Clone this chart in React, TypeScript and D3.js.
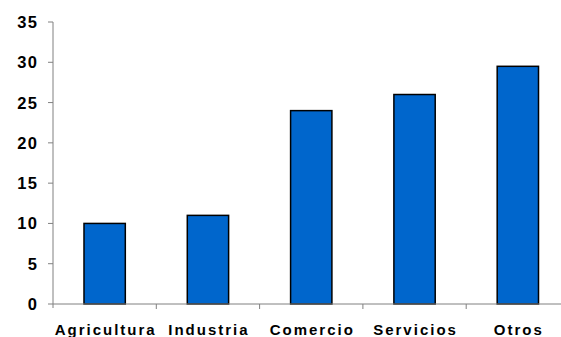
import React from "react";
import * as d3 from "d3";

const categories = ["Agricultura", "Industria", "Comercio", "Servicios", "Otros"];
const values = [10, 11, 24, 26, 29.5];
const yTicks = [0, 5, 10, 15, 20, 25, 30, 35];

export default function App() {
  const W = 561, H = 337;
  const left = 53, top = 22, bottom = 304;
  const band = 103.3;
  const x = d3.scaleBand<string>().domain(categories).range([left, left + band * categories.length]).paddingInner(0.6).paddingOuter(0.3);
  const y = d3.scaleLinear().domain([0, 35]).range([bottom, top]);
  const font = "Arial, 'Liberation Sans', sans-serif";
  return (
    <svg width={W} height={H} style={{ position: "absolute", left: 0, top: 0, background: "#fff" }}>
      {categories.map((c, i) => (
        <rect key={c} x={x(c)!} y={y(values[i])} width={x.bandwidth()} height={y(0) - y(values[i])}
          fill="#0066CC" stroke="#000" strokeWidth={1.5} />
      ))}
      <line x1={left} x2={W} y1={bottom} y2={bottom} stroke="#808080" strokeWidth={1} />
      <line x1={left} x2={left} y1={top} y2={bottom + 4} stroke="#808080" strokeWidth={1} />
      {yTicks.map(t => (
        <g key={t}>
          <line x1={left - 5} x2={left} y1={y(t)} y2={y(t)} stroke="#808080" />
          <text x={38.5} y={y(t)} dy="0.36em" textAnchor="end" fontFamily={font} fontWeight="bold" fontSize={16.5} letterSpacing={1.5} fill="#000">{t}</text>
        </g>
      ))}
      {categories.slice(1).map((c, i) => {
        const xx = left + band * (i + 1);
        return <line key={c} x1={xx} x2={xx} y1={bottom} y2={bottom + 5} stroke="#808080" />;
      })}
      {categories.map(c => (
        <text key={c} x={x(c)! + x.bandwidth() / 2 + 1} y={334.5} textAnchor="middle" fontFamily={font}
          fontWeight="bold" fontSize={15} letterSpacing={2} fill="#000">{c}</text>
      ))}
    </svg>
  );
}
